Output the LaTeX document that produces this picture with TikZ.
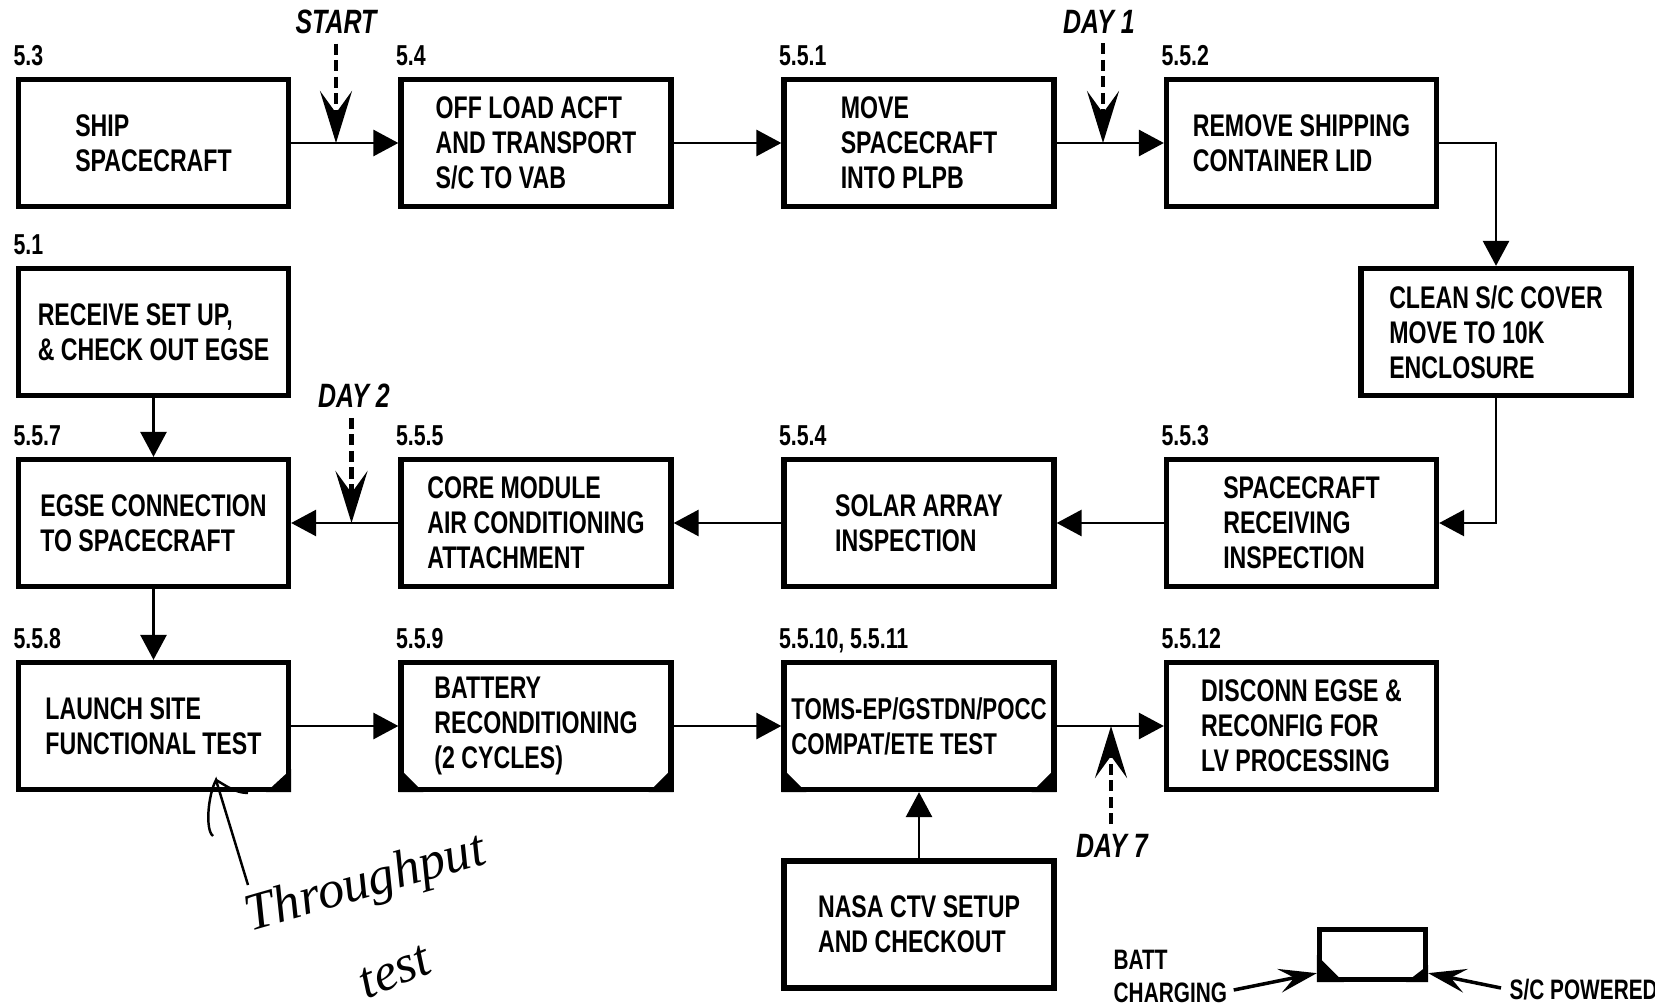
\documentclass[tikz,border=0pt]{standalone}
\usepackage{fontspec}
\setmainfont{Liberation Sans}[FakeStretch=0.74]
\newfontfamily\handfont{Liberation Serif}
\usetikzlibrary{arrows.meta}

\begin{document}
\begin{tikzpicture}[
    stepbox/.style={draw, line width=1.5pt, minimum width=2.70cm, minimum height=1.27cm,
      align=left, inner sep=1pt, font=\fontsize{8.9}{10}\selectfont\bfseries},
    numlbl/.style={anchor=base west, inner sep=0pt, font=\fontsize{8.2}{9}\selectfont\bfseries},
    daylbl/.style={inner sep=1pt, font=\fontsize{9.6}{10}\selectfont\bfseries\itshape},
    keylbl/.style={inner sep=0pt, align=left, font=\fontsize{8}{9.4}\selectfont\bfseries},
    flow/.style={line width=0.8pt, -{Triangle[length=2.5mm, width=2.6mm]}},
    dayarrow/.style={line width=1.4pt, dash pattern=on 1.1mm off 0.55mm,
      -{Stealth[length=5.2mm, width=3.2mm, inset=2.2mm]}},
    keyarrow/.style={line width=1pt, -{Stealth[length=3.8mm, width=2.4mm, inset=1.5mm]}},
    hand/.style={inner sep=0pt, font=\handfont\itshape\fontsize{15}{15}\selectfont}
  ]
    \useasboundingbox (0,0) rectangle (16.55,-10.05);

    % Row 1
    \node[stepbox] (s53) at (1.535,-1.43) {SHIP\\SPACECRAFT};
    \node[stepbox] (s54) at (5.36,-1.43) {OFF LOAD ACFT\\AND TRANSPORT\\S/C TO VAB};
    \node[stepbox] (s551) at (9.19,-1.43) {MOVE\\SPACECRAFT\\INTO PLPB};
    \node[stepbox] (s552) at (13.015,-1.43) {REMOVE SHIPPING\\CONTAINER LID};

    % Row 2
    \node[stepbox] (s51) at (1.535,-3.32) {RECEIVE SET UP,\\\& CHECK OUT EGSE};
    \node[stepbox] (clean) at (14.96,-3.32) {CLEAN S/C COVER\\MOVE TO 10K\\ENCLOSURE};

    % Row 3
    \node[stepbox] (s557) at (1.535,-5.23) {EGSE CONNECTION\\TO SPACECRAFT};
    \node[stepbox] (s555) at (5.36,-5.23) {CORE MODULE\\AIR CONDITIONING\\ATTACHMENT};
    \node[stepbox] (s554) at (9.19,-5.23) {SOLAR ARRAY\\INSPECTION};
    \node[stepbox] (s553) at (13.015,-5.23) {SPACECRAFT\\RECEIVING\\INSPECTION};

    % Row 4
    \node[stepbox] (s558) at (1.535,-7.26) {LAUNCH SITE\\FUNCTIONAL TEST};
    \node[stepbox] (s559) at (5.36,-7.26) {BATTERY\\RECONDITIONING\\(2 CYCLES)};
    \node[stepbox, font=\fontsize{8.55}{10}\selectfont\bfseries] (s5510) at (9.19,-7.26)
      {TOMS-EP/GSTDN/POCC\\COMPAT/ETE TEST};
    \node[stepbox] (s5512) at (13.015,-7.26) {DISCONN EGSE \&\\RECONFIG FOR\\LV PROCESSING};
    \node[stepbox] (ctv) at (9.19,-9.245) {NASA CTV SETUP\\AND CHECKOUT};

    % Step numbers
    \node[numlbl] (n53) at ([xshift=-0.03cm, yshift=0.11cm]s53.north west) {5.3};
    \node[numlbl] (n54) at ([xshift=-0.03cm, yshift=0.11cm]s54.north west) {5.4};
    \node[numlbl] (n551) at ([xshift=-0.03cm, yshift=0.11cm]s551.north west) {5.5.1};
    \node[numlbl] (n552) at ([xshift=-0.03cm, yshift=0.11cm]s552.north west) {5.5.2};
    \node[numlbl] (n51) at ([xshift=-0.03cm, yshift=0.11cm]s51.north west) {5.1};
    \node[numlbl] (n557) at ([xshift=-0.03cm, yshift=0.11cm]s557.north west) {5.5.7};
    \node[numlbl] (n555) at ([xshift=-0.03cm, yshift=0.11cm]s555.north west) {5.5.5};
    \node[numlbl] (n554) at ([xshift=-0.03cm, yshift=0.11cm]s554.north west) {5.5.4};
    \node[numlbl] (n553) at ([xshift=-0.03cm, yshift=0.11cm]s553.north west) {5.5.3};
    \node[numlbl] (n558) at ([xshift=-0.03cm, yshift=0.11cm]s558.north west) {5.5.8};
    \node[numlbl] (n559) at ([xshift=-0.03cm, yshift=0.11cm]s559.north west) {5.5.9};
    \node[numlbl] (n5510) at ([xshift=-0.03cm, yshift=0.11cm]s5510.north west) {5.5.10, 5.5.11};
    \node[numlbl] (n5512) at ([xshift=-0.03cm, yshift=0.11cm]s5512.north west) {5.5.12};

    % Battery / power corners
    \fill (s558.south east) -- ++(-0.25,0) -- ++(0.25,0.23) -- cycle;
    \fill (s559.south west) -- ++(0.25,0) -- ++(-0.25,0.25) -- cycle;
    \fill (s559.south east) -- ++(-0.25,0) -- ++(0.25,0.25) -- cycle;
    \fill (s5510.south west) -- ++(0.25,0) -- ++(-0.25,0.25) -- cycle;
    \fill (s5510.south east) -- ++(-0.25,0) -- ++(0.25,0.25) -- cycle;

    % Flow
    \draw[flow] (s53) -- (s54);
    \draw[flow] (s54) -- (s551);
    \draw[flow] (s551) -- (s552);
    \draw[flow] (s552.east) -| (clean.north);
    \draw[flow] (clean.south) |- (s553.east);
    \draw[flow] (s553) -- (s554);
    \draw[flow] (s554) -- (s555);
    \draw[flow] (s555) -- (s557);
    \draw[flow] (s51) -- (s557);
    \draw[flow] (s557) -- (s558);
    \draw[flow] (s558) -- (s559);
    \draw[flow] (s559) -- (s5510);
    \draw[flow] (s5510) -- (s5512);
    \draw[flow] (ctv) -- (s5510);

    % Milestones
    \coordinate (pstart) at (3.36,-1.43);
    \coordinate (pday1) at (11.03,-1.43);
    \coordinate (pday2) at (3.515,-5.23);
    \coordinate (pday7) at (11.11,-7.26);
    \node[daylbl] (tstart) at (3.36,-0.215) {START};
    \node[daylbl] (tday1) at (10.99,-0.215) {DAY 1};
    \node[daylbl] (tday2) at (3.54,-3.96) {DAY 2};
    \node[daylbl] (tday7) at (11.12,-8.46) {DAY 7};
    \draw[dayarrow] (tstart.south -| pstart) ++(0,-0.06) -- (pstart);
    \draw[dayarrow] (tday1.south -| pday1) ++(0,-0.06) -- (pday1);
    \draw[dayarrow] (tday2.south -| pday2) ++(0,-0.06) -- (pday2);
    \draw[dayarrow] (tday7.north -| pday7) ++(0,0.06) -- (pday7);

    % Key
    \node[draw, line width=1.5pt, minimum width=1.06cm, minimum height=0.50cm] (legbox) at (13.725,-9.545) {};
    \fill (legbox.south west) -- ++(0.27,0) -- ++(-0.27,0.27) -- cycle;
    \fill (legbox.south east) -- ++(-0.22,0) -- ++(0.22,0.17) -- cycle;
    \node[keylbl, anchor=west] (battlbl) at (11.13,-9.76) {BATT\\CHARGING};
    \node[keylbl, anchor=west] (pwrlbl) at (15.09,-9.90) {S/C POWERED};
    \draw[keyarrow] ([xshift=0.06cm, yshift=-0.14cm]battlbl.east) -- ([yshift=0.09cm]legbox.south west);
    \draw[keyarrow] ([xshift=-0.08cm, yshift=0.02cm]pwrlbl.west) -- ([yshift=0.09cm]legbox.south east);

    % Hand note
    \coordinate (hnd) at (2.48,-8.85);
    \coordinate (htip) at (2.16,-7.80);
    \draw[line width=0.7pt] (hnd) -- (htip)
      .. controls (2.08,-7.95) and (2.05,-8.30) .. (2.13,-8.36);
    \draw[line width=0.7pt] (htip) .. controls (2.25,-7.85) and (2.35,-7.93) .. (2.48,-7.93);
    \node[hand, rotate=16] (tput) at (3.66,-8.85) {Throughput};
    \node[hand, rotate=22] (ttest) at (3.95,-9.72) {test};
\end{tikzpicture}
\end{document}
